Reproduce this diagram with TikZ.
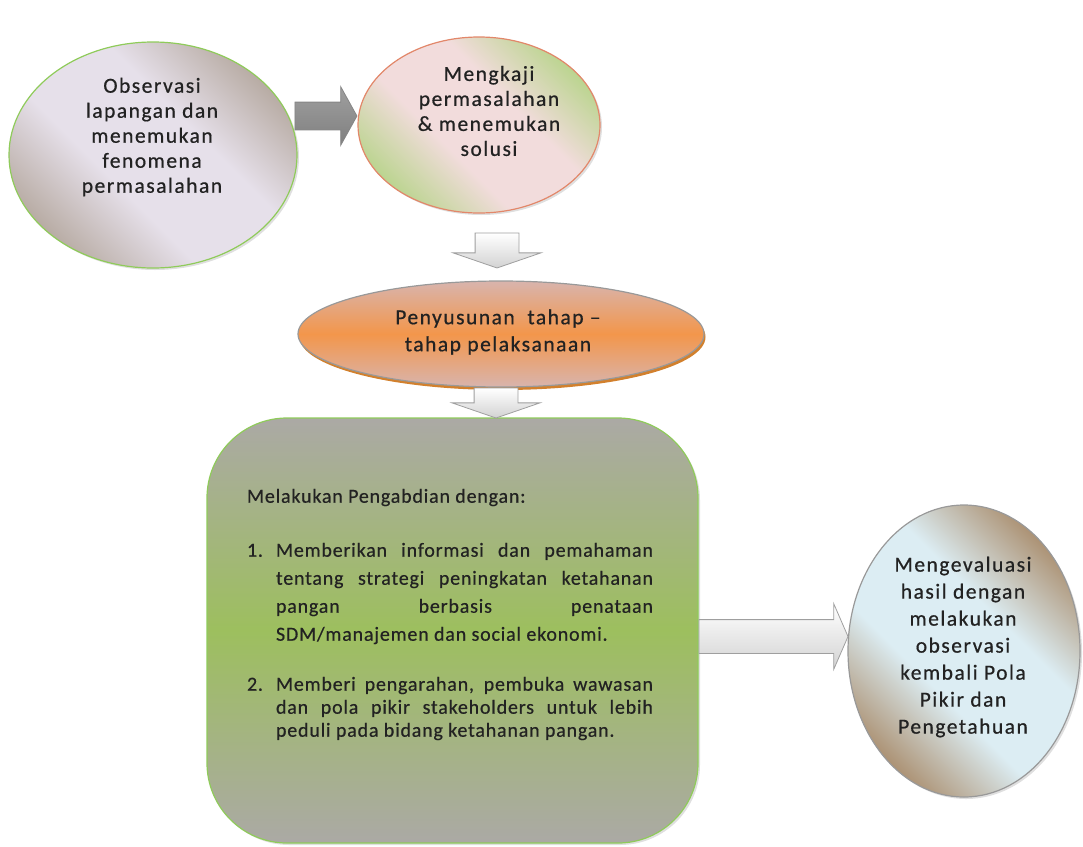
\documentclass[tikz,border=0pt]{standalone}
\usepackage{fontspec}
\setmainfont{Carlito}
\newfontfamily\hurufbulat[LetterSpace=7, FakeBold=0.6]{Carlito}
\newfontfamily\hurufkotak[LetterSpace=4, FakeBold=0.5]{Carlito}
\usetikzlibrary{shapes.geometric, shapes.arrows, shadows, backgrounds}
\hbadness=10000

\definecolor{teks}{HTML}{222222}
\definecolor{hijaugaris}{HTML}{8FCB5A}
\definecolor{ungumuda}{HTML}{E6E0EA}
\definecolor{coklatabu}{HTML}{B0A398}
\definecolor{merahmuda}{HTML}{F2DCDC}
\definecolor{hijaumuda}{HTML}{B2D383}
\definecolor{oranye}{HTML}{F3964B}
\definecolor{oranyeabu}{HTML}{D8B4AD}
\definecolor{hijaukotak}{HTML}{9DBF5E}
\definecolor{abukotak}{HTML}{ABA9A5}
\definecolor{birumuda}{HTML}{DCEDF3}
\definecolor{coklat}{HTML}{A4835F}
\colorlet{tepi}{gray}
\colorlet{tengah}{white}

% gradasi miring: warna tepi di dua sudut, warna tengah melebar
\pgfdeclareverticalshading[tepi,tengah]{miring}{100bp}{%
  color(0bp)=(tepi); color(22bp)=(tepi); color(41bp)=(tengah);
  color(59bp)=(tengah); color(78bp)=(tepi); color(100bp)=(tepi)}

\begin{document}
\begin{tikzpicture}[
  x=1pt, y=-1pt,
  text=teks,
  bulat/.style={ellipse, line width=1.2pt, inner sep=0pt},
  warnabulat/.style 2 args={/utils/exec={\colorlet{tepi}{#1}\colorlet{tengah}{#2}},
                            shade, shading=miring, shading angle=-45},
  bayangan/.style={drop shadow={opacity=0.25, shadow xshift=2pt, shadow yshift=-2pt}},
  teksbulat/.style={font=\hurufbulat\fontsize{21.5}{25}\selectfont, align=center, inner sep=0pt},
  panah/.style={single arrow, draw=gray!75, line width=0.8pt, inner xsep=0pt,
                minimum width=0pt, top color=white, bottom color=gray!35},
  panahgelap/.style={panah, draw=gray!95, top color=gray!75, bottom color=gray!100}
]
\useasboundingbox (0,0) rectangle (1083,846);

% ---- bentuk-bentuk ------------------------------------------------
\node[bulat, bayangan, draw=hijaugaris, minimum width=288pt, minimum height=226pt,
      warnabulat={coklatabu}{ungumuda}]
      (obs) at (153,155) {};
\node[bulat, bayangan, draw=red!35!brown!70, minimum width=242pt, minimum height=176pt,
      warnabulat={hijaumuda}{merahmuda}]
      (kaji) at (479,125) {};
\node[bulat, draw=gray!80, minimum width=406pt, minimum height=106pt,
      drop shadow={fill=brown!70!orange, opacity=1, shadow xshift=1.5pt, shadow yshift=-3pt},
      top color=oranyeabu, bottom color=oranyeabu, middle color=oranye]
      (susun) at (501,334) {};
\node[draw=hijaugaris, line width=1.2pt, rounded corners=80pt, bayangan,
      minimum width=491pt, minimum height=425pt,
      top color=abukotak, bottom color=abukotak, middle color=hijaukotak]
      (kotak) at (452.5,630.5) {};
\node[bulat, bayangan, draw=gray!80, minimum width=232pt, minimum height=292pt,
      warnabulat={coklat}{birumuda}]
      (evaluasi) at (964,651) {};

% ---- teks ---------------------------------------------------------
\node[teksbulat] (obsteks) at (152,137)
  {Observasi\\lapangan dan\\menemukan\\fenomena\\permasalahan};
\node[teksbulat] (kajiteks) at (489,111)
  {Mengkaji\\permasalahan\\\& menemukan\\solusi};
\node[teksbulat, font=\hurufbulat\fontsize{21.5}{27}\selectfont] (susunteks) at (498,332)
  {Penyusunan\ \ tahap –\\tahap pelaksanaan};
\node[teksbulat, font=\hurufbulat\fontsize{21.5}{27}\selectfont] (evaluasiteks) at (963,647)
  {Mengevaluasi\\hasil dengan\\melakukan\\observasi\\kembali Pola\\Pikir dan\\Pengetahuan};

\node[text width=406pt, align=justify, inner sep=0pt,
      font=\hurufkotak\fontsize{20}{25}\selectfont] (isi) at (450,614.5) {%
  Melakukan Pengabdian dengan:\par
  \vspace{26pt}
  {\baselineskip=28pt \hangindent=29pt \hangafter=1
   \noindent\makebox[29pt][l]{1.}Memberikan informasi dan pemahaman\linebreak
   tentang strategi peningkatan ketahanan\linebreak
   pangan berbasis penataan\linebreak
   SDM/manajemen dan social ekonomi.\par}
  \vspace{27pt}
  {\baselineskip=23pt \hangindent=29pt \hangafter=1
   \noindent\makebox[29pt][l]{2.}Memberi pengarahan, pembuka wawasan\linebreak
   dan pola pikir stakeholders untuk lebih\linebreak
   peduli pada bidang ketahanan pangan.\par}};

% ---- panah --------------------------------------------------------
\begin{scope}[on background layer]
\node[panahgelap, anchor=tip, minimum height=62pt, inner ysep=13.5pt,
      single arrow head extend=15.5pt, single arrow tip angle=122]
      (p1) at ([yshift=9pt]kaji.west) {};
\end{scope}
\node[panah, rotate=-90, anchor=tip, minimum height=35pt, inner ysep=21.5pt,
      single arrow head extend=22pt, single arrow tip angle=142]
      (p2) at ([xshift=-4pt,yshift=12pt]susun.north) {};
\node[panah, rotate=-90, anchor=tail, minimum height=30pt, inner ysep=21.5pt,
      single arrow head extend=22pt, single arrow tip angle=142]
      (p3) at ([xshift=-5pt]susun.south) {};
\node[panah, anchor=tail, minimum height=149pt, inner ysep=16.5pt,
      single arrow head extend=16pt, single arrow tip angle=133]
      (p4) at ([yshift=-6pt]kotak.east) {};

\end{tikzpicture}
\end{document}
